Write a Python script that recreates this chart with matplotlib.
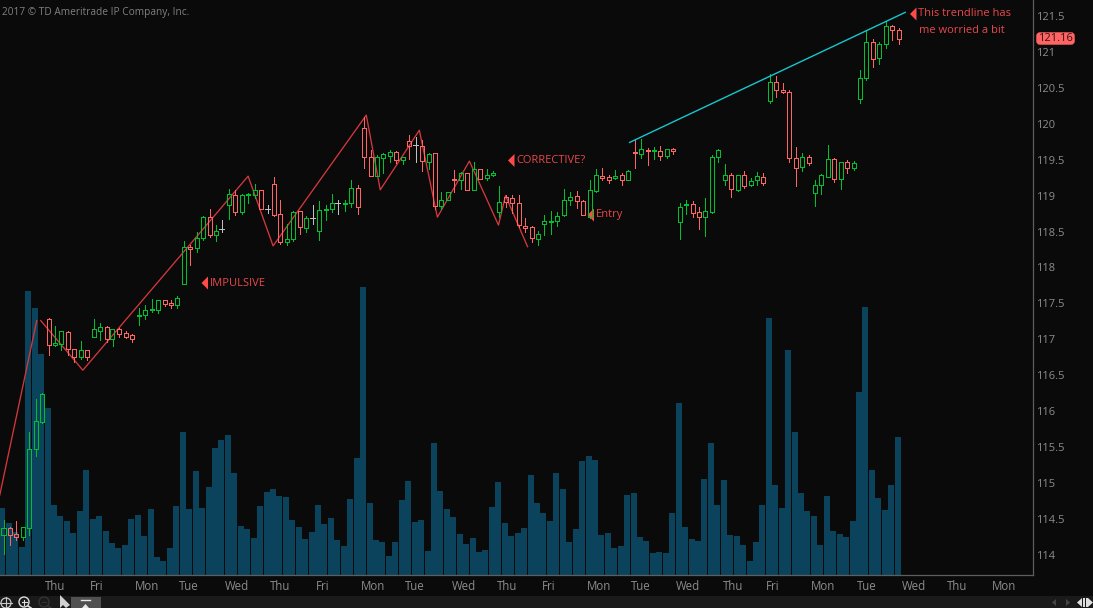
import matplotlib
matplotlib.use("Agg")
import matplotlib.pyplot as plt
from matplotlib.patches import Rectangle, Polygon, Circle, FancyBboxPatch
import numpy as np

plt.rcParams['font.family'] = ['Open Sans', 'DejaVu Sans']

opens = [114.28,114.37,114.29,114.25,114.37,115.47,115.85,117.28,116.92,116.94,117.10,116.87,116.76,116.85,117.03,117.12,117.17,117.01,117.14,117.09,
 117.06,117.32,117.34,117.41,117.41,117.55,117.51,117.48,117.77,118.29,118.27,118.41,118.70,118.45,118.54,118.87,119.01,118.77,119.01,119.01,
 119.08,118.81,119.16,118.74,118.35,118.40,118.79,118.55,118.69,118.51,118.80,118.81,118.90,118.88,118.90,119.11,119.94,119.54,119.27,119.52,
 119.55,119.61,119.50,119.76,119.70,119.69,119.47,119.59,118.86,118.94,119.23,119.22,119.31,119.08,119.37,119.24,119.29,118.77,118.98,118.97,
 118.90,118.58,118.56,118.40,118.60,118.63,118.65,118.73,118.94,118.99,118.92,118.70,119.06,119.27,119.26,119.25,119.29,119.22,119.61,119.58,
 119.64,119.62,119.62,119.55,119.65,118.63,118.87,118.88,118.77,118.70,118.77,119.54,119.22,119.29,119.08,119.29,119.15,119.22,119.26,120.32,
 120.58,120.47,120.44,119.52,119.40,119.54,119.04,119.15,119.26,119.51,119.23,119.47,119.38,120.35,120.64,121.14,120.91,121.11,121.36,121.30]
closes = [114.37,114.28,114.25,114.39,115.47,115.86,116.24,116.92,116.95,117.12,116.87,116.76,116.85,116.76,117.14,117.17,117.01,117.14,117.07,117.03,
 117.01,117.34,117.41,117.42,117.55,117.49,117.48,117.58,118.29,118.26,118.41,118.70,118.45,118.51,118.54,119.02,118.77,119.01,119.02,119.08,
 118.81,118.81,118.73,118.35,118.40,118.77,118.56,118.69,118.69,118.80,118.81,118.90,118.90,118.90,119.11,118.84,119.54,119.27,119.54,119.58,
 119.61,119.50,119.54,119.69,119.70,119.48,119.58,118.86,118.94,119.05,119.22,119.31,119.08,119.37,119.23,119.29,119.31,118.91,118.91,118.90,
 118.59,118.55,118.41,118.47,118.65,118.65,118.72,118.94,118.98,118.92,118.73,119.08,119.29,119.25,119.22,119.27,119.22,119.34,119.59,119.65,
 119.62,119.64,119.55,119.65,119.62,118.84,118.88,118.76,118.70,118.79,119.54,119.63,119.29,119.09,119.29,119.13,119.20,119.27,119.18,120.58,
 120.47,120.44,119.52,119.38,119.54,119.45,119.15,119.29,119.51,119.23,119.47,119.38,119.45,120.64,121.14,120.90,121.11,121.36,121.30,121.18]
highs = [114.49,114.39,114.47,114.39,115.71,116.17,116.25,117.30,117.19,117.12,117.12,116.87,116.98,116.85,117.28,117.23,117.19,117.14,117.16,117.12,
 117.07,117.44,117.48,117.56,117.55,117.55,117.55,117.60,118.37,118.31,118.49,118.72,118.81,118.59,118.66,119.09,119.08,119.02,119.04,119.16,
 119.08,118.87,119.26,118.94,118.61,118.79,118.79,118.72,118.87,118.93,118.87,119.02,118.94,118.94,119.22,119.15,120.09,119.64,119.57,119.59,
 119.64,119.62,119.54,119.84,119.82,119.77,119.59,119.59,119.05,119.05,119.36,119.33,119.31,119.47,119.37,119.37,119.34,119.13,119.01,119.01,
 119.01,118.69,118.58,118.51,118.73,118.79,118.77,119.09,119.05,119.06,118.94,119.22,119.37,119.38,119.29,119.36,119.31,119.36,119.77,119.79,
 119.66,119.68,119.69,119.65,119.66,118.90,118.94,118.92,118.84,118.97,119.57,119.65,119.44,119.31,119.29,119.34,119.24,119.33,119.31,120.69,
 120.66,120.57,120.47,119.68,119.59,119.57,119.22,119.30,119.70,119.52,119.47,119.50,119.48,120.75,121.30,121.18,121.14,121.43,121.37,121.33]
lows = [114.01,114.14,114.21,114.21,114.28,115.38,115.84,116.78,116.91,116.85,116.78,116.69,116.73,116.71,117.03,116.99,116.96,116.91,117.03,117.02,
 116.96,117.20,117.28,117.38,117.37,117.46,117.44,117.44,117.77,118.03,118.22,118.38,118.42,118.37,118.49,118.67,118.73,118.74,118.90,118.97,
 118.81,118.76,118.72,118.33,118.31,118.37,118.47,118.49,118.60,118.38,118.66,118.77,118.74,118.79,118.84,118.74,119.38,119.27,119.27,119.31,
 119.47,119.45,119.44,119.51,119.47,119.34,119.37,118.81,118.81,118.94,119.05,119.09,119.08,119.08,119.23,119.22,119.27,118.70,118.84,118.76,
 118.56,118.49,118.35,118.31,118.45,118.47,118.58,118.72,118.87,118.83,118.73,118.69,119.05,119.22,119.18,119.23,119.15,119.22,119.38,119.52,
 119.43,119.51,119.50,119.52,119.58,118.40,118.74,118.70,118.54,118.44,118.76,119.47,119.15,118.98,119.06,119.11,119.13,119.15,119.15,120.29,
 120.37,120.43,119.47,119.13,119.34,119.43,118.86,119.02,119.26,119.19,119.09,119.31,119.36,120.29,120.61,120.79,120.83,121.05,121.17,121.11]
volumes = [67,52,43,28,284,267,221,167,70,59,54,42,64,105,56,59,44,32,27,30,
 56,60,39,66,18,14,27,69,143,66,104,67,88,127,135,140,102,49,46,37,
 69,83,86,79,78,55,48,36,43,70,51,57,35,29,76,117,288,72,35,33,
 19,33,75,94,53,55,24,132,84,66,58,41,
 31,37,23,25,68,93,52,39,42,47,100,72,62,54,102,86,33,46,114,119,115,40,42,27,29,80,82,38,34,22,23,22,62,172,48,36,34,96,132,70,95,40,39,30,14,33,70,257,90,67,225,143,82,64,59,30,79,44,41,38,54,183,268,105,77,65,90,138]

day_labels = ['Thu','Fri','Mon','Tue','Wed','Thu','Fri','Mon','Tue','Wed','Thu','Fri','Mon','Tue','Wed','Thu','Fri','Mon','Tue','Wed','Thu','Mon']
day_positions = [8.1,14.5,22.4,28.9,36.4,43.1,49.6,57.4,63.9,71.5,78.3,84.7,92.5,99.0,106.4,113.3,119.5,127.4,134.2,141.5,148.2,155.5]
price_ticks = [114,114.5,115,115.5,116,116.5,117,117.5,118,118.5,119,119.5,120,120.5,121,121.5]

wave_a_x = [-0.51,5.24]
wave_a_y = [114.83,117.26]
wave_b_x = [5.86,12.40,38.06,41.94,56.41,58.58,64.65,67.45,72.42,76.94,78.03,81.45]
wave_b_y = [117.26,116.57,119.27,118.30,120.12,119.08,119.91,118.70,119.48,118.59,119.00,118.29]
trend_x = [97.3,140.1]
trend_y = [119.74,121.55]
last_price = 121.16

BG='#0a0a0a'; RED='#ff6464'; GREEN='#00c030'; GRAY='#c0c0c0'; VOL='#0c435c'
LINE='#d2383c'; NOTE='#e8484c'; TRI='#ff4a4a'; CYAN='#18c6ce'; SPINE='#5e5e5e'; TXT='#8c8c8c'

W,H=1093,608
PX=6.44   # pixels per bar
fig=plt.figure(figsize=(W/100,H/100),dpi=100,facecolor=BG)
rect=[0,(H-575)/H,1033/W,575/H]
ax=fig.add_axes(rect,facecolor=BG)
ax.set_xlim(-3.0/PX,(1033-3.0)/PX)
ax.set_ylim(113.72,121.722)
vax=ax.twinx()
vax.set_ylim(0,575)
vax.axis('off')
ax.set_zorder(vax.get_zorder()+1)
ax.patch.set_visible(False)

n=len(opens)
idx=np.arange(n)
vax.bar(idx-0.078,volumes,width=6/PX,color=VOL,linewidth=0,antialiased=False)

o,c,h,l=map(np.array,(opens,closes,highs,lows))
top=np.maximum(o,c); bot=np.minimum(o,c)
cols=[GREEN if cc>oo else RED if cc<oo else GRAY for oo,cc in zip(o,c)]
# centre every candle on a whole pixel column so wick and body stay aligned
fig.canvas.draw()
px=ax.transData.transform(np.column_stack([idx,o]))
px[:,0]=np.floor(px[:,0]+1e-6)+0.5
xc=ax.transData.inverted().transform(px)[:,0]
ax.vlines(xc,top,h,colors=cols,lw=0.72,zorder=4,antialiased=False)
ax.vlines(xc,l,bot,colors=cols,lw=0.72,zorder=4,antialiased=False)
for i in idx:
    if o[i]==c[i]:
        ax.hlines(o[i],xc[i]-2.5/PX,xc[i]+2.5/PX,colors=cols[i],lw=0.72,zorder=4,antialiased=False)
    else:
        ax.bar(xc[i],top[i]-bot[i],bottom=bot[i],width=4/PX,facecolor='none',edgecolor=cols[i],linewidth=0.72,zorder=4,antialiased=False)

ax.plot(wave_a_x,wave_a_y,color=LINE,lw=0.95,zorder=3)
ax.plot(wave_b_x,wave_b_y,color=LINE,lw=0.95,zorder=3)
ax.plot(trend_x,trend_y,color=CYAN,lw=1.0,zorder=5)

for s in ('top','left'):
    ax.spines[s].set_visible(False)
ax.spines['right'].set_color(SPINE); ax.spines['bottom'].set_color(SPINE)
ax.spines['right'].set_linewidth(0.9); ax.spines['bottom'].set_linewidth(0.9)
ax.yaxis.tick_right()
ax.set_yticks(price_ticks)
ax.set_yticklabels([f'{t:g}' for t in price_ticks])
ax.set_xticks(day_positions)
ax.set_xticklabels(day_labels)
ax.tick_params(axis='y',length=0,pad=2.2,labelsize=8.0,labelcolor=TXT)
ax.tick_params(axis='x',length=0,pad=3.5,labelsize=8.3,labelcolor=TXT)

ui=fig.add_axes([0,0,1,1],facecolor='none')
ui.set_xlim(0,W); ui.set_ylim(H,0); ui.axis('off')
ui.text(2,12,'2017 © TD Ameritrade IP Company, Inc.',color='#808080',fontsize=7.3,va='center',ha='left')

def note(tx,ty,label):
    ui.add_patch(Polygon([[tx+6.5,ty-6.5],[tx+6.5,ty+6.5],[tx,ty]],closed=True,color=TRI,lw=0))
    ui.text(tx+8.5,ty,label,color=NOTE,fontsize=8.0,va='center',ha='left')
note(201.5,283,'IMPULSIVE')
note(508,160.5,'CORRECTIVE?')
note(587.5,215,'Entry')
note(910,14,'This trendline has')
ui.text(919,30.5,'me worried a bit',color=NOTE,fontsize=8.0,va='center',ha='left')

# last price tag
ui.add_patch(FancyBboxPatch((1038,34),35,9,boxstyle='round,pad=0,rounding_size=2',mutation_aspect=1,fc='#ff6464',ec='#ff6464',lw=2.5))
ui.text(1055.5,38.2,f'{last_price:.2f}',color='#3a1212',fontsize=8.0,ha='center',va='center')

# bottom toolbar
ui.add_patch(Rectangle((0,596),W,12,color='#1a1a1a',lw=0))
wh='#c8c8c8'
ui.add_patch(Circle((6,603),5,fc='none',ec=wh,lw=0.9))
ui.plot([0,12],[603,603],color=wh,lw=0.8); ui.plot([6,6],[597,608],color=wh,lw=0.8)
ui.add_patch(Circle((24,602),5,fc='none',ec='#dddddd',lw=1.0))
ui.plot([21.5,26.5],[602,602],color='#dddddd',lw=0.8); ui.plot([24,24],[599.5,604.5],color='#dddddd',lw=0.8)
ui.plot([28,31],[606,608],color='#dddddd',lw=1.2)
ui.add_patch(Circle((44,602),5,fc='none',ec='#333333',lw=1.0))
ui.plot([42,46],[602,602],color='#333333',lw=0.8); ui.plot([48,51],[606,608],color='#333333',lw=1.2)
ui.add_patch(Polygon([[60,595],[60,608],[63,605],[66,608],[70,605]],closed=True,color='#d0d0d0',lw=0))
ui.add_patch(Rectangle((71,597),30,11,color='#505050',lw=0))
ui.plot([81,90],[600,600],color='#e8e8e8',lw=1.0)
ui.add_patch(Polygon([[82,608],[85.5,604],[89,608]],closed=True,color='#e8e8e8',lw=0))
ui.add_patch(Polygon([[1056,599],[1056,606],[1052,602.5]],closed=True,color='#444444',lw=0))
ui.add_patch(Polygon([[1066,599],[1066,606],[1070,602.5]],closed=True,color='#444444',lw=0))
ui.add_patch(Polygon([[1082,598],[1082,607],[1077,602.5]],closed=True,color='#e0e0e0',lw=0))
ui.add_patch(Polygon([[1088,598],[1088,607],[1093,602.5]],closed=True,color='#e0e0e0',lw=0))
ui.add_patch(Rectangle((1083,598),1.5,9,color='#e0e0e0',lw=0))
ui.add_patch(Rectangle((1086,598),1.5,9,color='#e0e0e0',lw=0))

fig.savefig('out.png',dpi=100,facecolor=BG)
